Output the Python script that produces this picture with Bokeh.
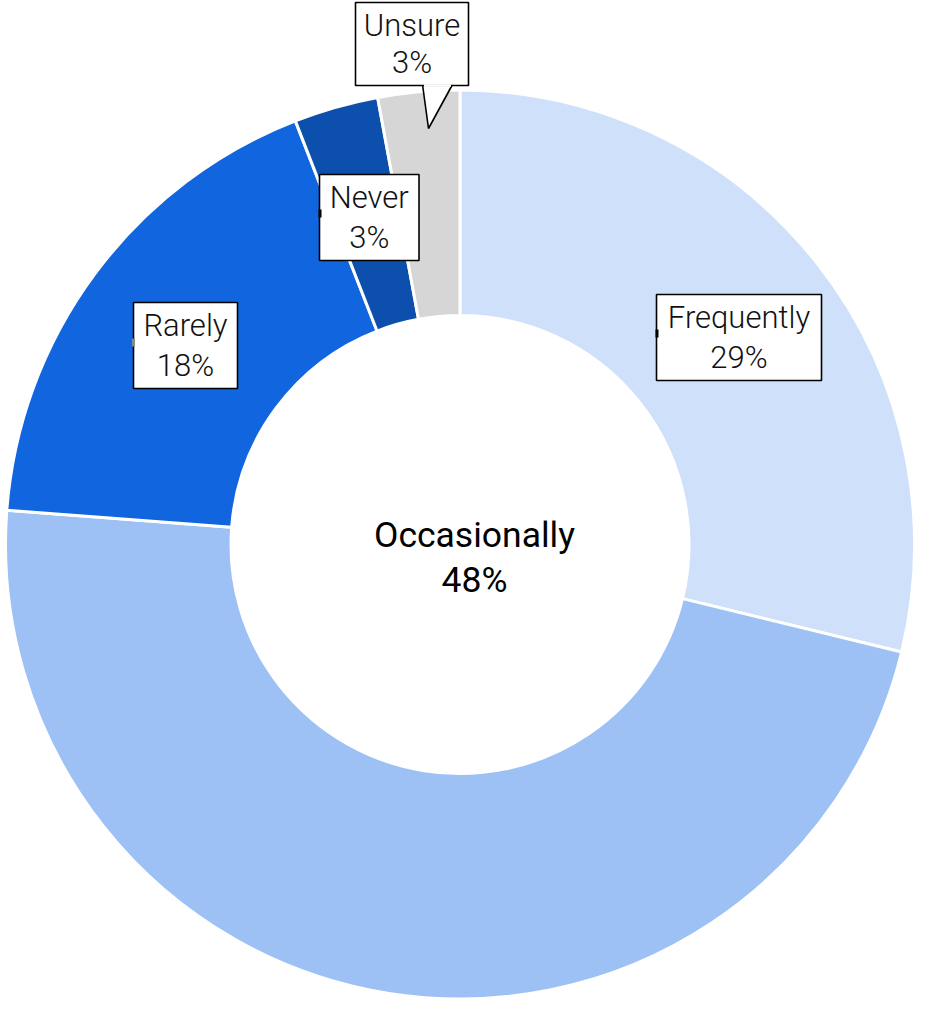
import numpy as np
from bokeh.plotting import figure
from bokeh.models import Range1d, ColumnDataSource
from bokeh.core.properties import value
from bokeh.embed import file_html
from bokeh.resources import INLINE

# ---- data ----
categories = ["Frequently", "Occasionally", "Rarely", "Never", "Unsure"]
shares = [28.8, 47.4, 17.9, 3.0, 2.9]
labels_pct = ["29%", "48%", "18%", "3%", "3%"]
colors = ["#cfe0fb", "#9dc1f5", "#1166e0", "#0d4fad", "#d6d6d6"]

# ---- layout (canvas pixel coordinates, y downwards) ----
W, H = 914, 999
cx, cy = 459.5, 544
r_out, r_in = 454.5, 229

p = figure(width=W, height=H, output_backend="svg", toolbar_location=None,
           x_range=Range1d(0, W), y_range=Range1d(-H, 0),
           min_border=0, outline_line_color=None)
p.axis.visible = False
p.grid.visible = False
p.background_fill_color = "white"
p.border_fill_color = "white"

vals = np.array(shares, dtype=float)
frac = vals / vals.sum()
cum = np.concatenate([[0], np.cumsum(frac)])
start = np.pi / 2 - cum[:-1] * 2 * np.pi
end = np.pi / 2 - cum[1:] * 2 * np.pi

src = ColumnDataSource(dict(start=start, end=end, color=colors, cat=categories))
p.annular_wedge(x=cx, y=-cy, inner_radius=r_in, outer_radius=r_out,
                start_angle="start", end_angle="end", direction="clock",
                fill_color="color", line_color="white", line_width=3, source=src)

# label boxes: (left, top, right, bottom, first baseline, second baseline)
boxes = {
    "Frequently": (656, 294, 821, 380, 327, 367),
    "Rarely": (133, 302, 237, 388, 335, 375),
    "Never": (319, 174, 418.5, 260, 207, 247),
    "Unsure": (355, 2, 468, 85, 35, 72),
}
font = value("Roboto Light")
lab_px = 31
cap_mid = 0.355

# Unsure callout pointer
tip = (428, 128)
ub = boxes["Unsure"]
p.patch([422, tip[0], 452], [-ub[3] + 1, -tip[1], -ub[3] + 1],
        fill_color="white", line_color="black", line_width=1.6)

for cat, pct in zip(categories, labels_pct):
    if cat in boxes:
        l, t, r, b, b1, b2 = boxes[cat]
        p.quad(left=l, right=r, top=-t, bottom=-b, fill_color="white",
               line_color="black", line_width=1.6)
        xc = (l + r) / 2
        for txt, bl in ((cat, b1), (pct, b2)):
            p.text(x=[xc], y=[-(bl - cap_mid * 29)], text=[txt], text_align="center",
                   text_baseline="middle", text_font=font,
                   text_font_size=f"{lab_px}px", text_color="#111111")
    else:
        for txt, bl in ((cat, 546.7), (pct, 591.7)):
            p.text(x=[474], y=[-(bl - cap_mid * 35)], text=[txt], text_align="center",
                   text_baseline="middle", text_font=value("Roboto"),
                   text_font_size="35.5px", text_color="black")

# open the Unsure box bottom where the pointer joins
p.segment(x0=[423.5], y0=[-ub[3]], x1=[450.5], y1=[-ub[3]],
          line_color="white", line_width=2.5)

# small connector stubs on box edges
p.rect(x=[656.5, 319.5], y=[-333, -213], width=3, height=8,
       fill_color="black", line_color=None)
p.rect(x=[133], y=[-342], width=3, height=8, fill_color="#888888", line_color=None)

open("out.html", "w").write(file_html(p, INLINE))
